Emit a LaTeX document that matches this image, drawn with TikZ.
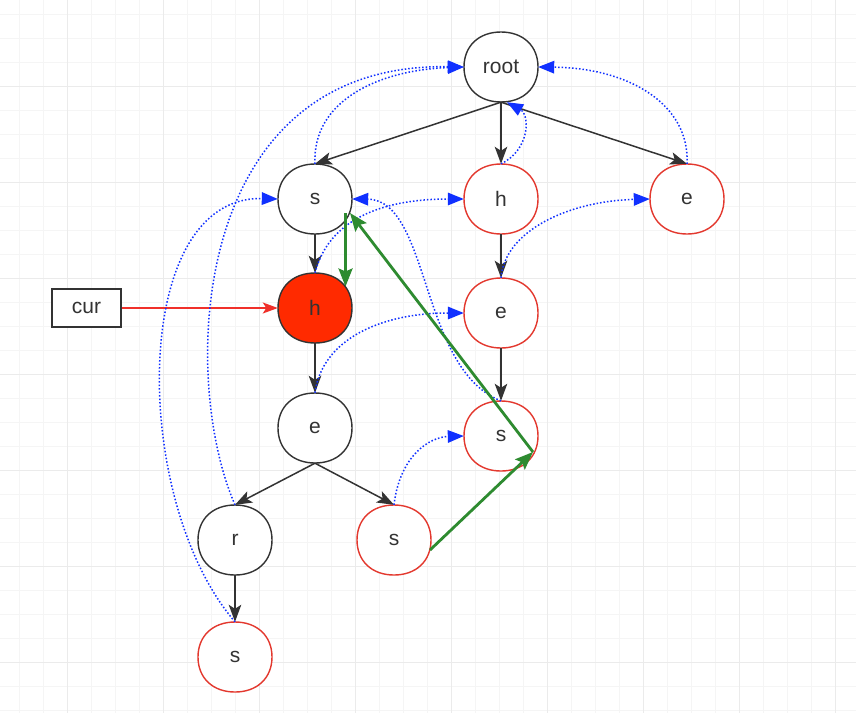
\documentclass[tikz,border=0pt]{standalone}
\usepackage{fontspec}
\setmainfont{Liberation Sans}
\usetikzlibrary{arrows.meta,shapes.geometric,calc}
\pgfdeclarelayer{bg}
\pgfsetlayers{bg,main}
\definecolor{gridminor}{HTML}{F5F5F5}
\definecolor{gridmajor}{HTML}{EBEBEB}
\definecolor{nodeblack}{HTML}{333333}
\definecolor{nodered}{HTML}{E3382E}
\definecolor{fillred}{HTML}{FF2A00}
\definecolor{failblue}{HTML}{1030FF}
\definecolor{pathgreen}{HTML}{2E8B30}
\definecolor{curred}{HTML}{F0302A}
\newcommand{\trieshape}[3]{%
  \begin{pgfonlayer}{bg}
  \draw[draw=#2, fill=#3, line width=1.4pt]
    ($(#1.center)+(37,0)$) .. controls +(0,-21) and +(22.2,0) ..
    ($(#1.center)+(0,-35)$) .. controls +(-22.2,0) and +(0,-21) ..
    ($(#1.center)+(-37,0)$) .. controls +(0,21) and +(-22.2,0) ..
    ($(#1.center)+(0,35)$) .. controls +(22.2,0) and +(0,21) ..
    ($(#1.center)+(37,0)$) -- cycle;
  \end{pgfonlayer}}
\begin{document}
\begin{tikzpicture}[x=1pt,y=-1pt,
  trie/.style={ellipse, minimum width=74pt, minimum height=70pt, inner sep=0pt,
    font=\fontsize{21}{25}\selectfont, text=nodeblack},
  boxnode/.style={rectangle, draw=nodeblack, line width=1.4pt, fill=white,
    minimum width=69pt, minimum height=38pt, inner sep=0pt,
    font=\fontsize{21}{25}\selectfont, text=nodeblack},
  treeedge/.style={draw=nodeblack, line width=1.5pt,
    -{Stealth[length=17pt,width=12.5pt,inset=4pt]}},
  failedge/.style={draw=failblue, line width=1.5pt, dash pattern=on 1.5pt off 2pt,
    -{Triangle[length=16pt,width=12.5pt]}},
  greenedge/.style={draw=pathgreen, line width=2.8pt,
    -{Stealth[length=18pt,width=14pt,inset=3pt]}},
  rededge/.style={draw=curred, line width=1.4pt,
    -{Stealth[length=15pt,width=11pt,inset=3.5pt]}}
]
\begin{pgfonlayer}{bg}
\useasboundingbox (0,0) rectangle (856,713);
\fill[white] (0,0) rectangle (856,713);
\foreach \x in {19,43,...,851} \draw[gridminor, line width=0.8pt] (\x,0) -- (\x,713);
\foreach \y in {14,38,...,710} \draw[gridminor, line width=0.8pt] (0,\y) -- (856,\y);
\foreach \x in {67,163,...,835} \draw[gridmajor, line width=1pt] (\x,0) -- (\x,713);
\foreach \y in {86,182,...,662} \draw[gridmajor, line width=1pt] (0,\y) -- (856,\y);
\end{pgfonlayer}

\node[trie] (root) at (501,67) {root};
\node[trie] (s1) at (315,199) {s};
\node[trie] (h1) at (501,199) {h};
\node[trie] (e1) at (687,199) {e};
\node[trie] (hF) at (315,308) {h};
\node[trie] (eM) at (501,313) {e};
\node[trie] (eB) at (315,428) {e};
\node[trie] (sR) at (501,436) {s};
\node[trie] (r) at (235,540) {r};
\node[trie] (sM) at (394,540) {s};
\node[trie] (sB) at (235,657) {s};
\node[boxnode] (cur) at (86.5,308) {cur};

\trieshape{root}{nodeblack}{white}
\trieshape{s1}{nodeblack}{white}
\trieshape{h1}{nodered}{white}
\trieshape{e1}{nodered}{white}
\trieshape{hF}{nodeblack}{fillred}
\trieshape{eM}{nodered}{white}
\trieshape{eB}{nodeblack}{white}
\trieshape{sR}{nodered}{white}
\trieshape{r}{nodeblack}{white}
\trieshape{sM}{nodered}{white}
\trieshape{sB}{nodered}{white}

\draw[treeedge] (root.south) -- (s1.north);
\draw[treeedge] (root.south) -- (h1.north);
\draw[treeedge] (root.south) -- (e1.north);
\draw[treeedge] (s1.south) -- (hF.north);
\draw[treeedge] (h1.south) -- (eM.north);
\draw[treeedge] (hF.south) -- (eB.north);
\draw[treeedge] (eM.south) -- (sR.north);
\draw[treeedge] (eB.south) -- (r.north);
\draw[treeedge] (eB.south) -- (sM.north);
\draw[treeedge] (r.south) -- (sB.north);

\draw[rededge] (cur.east) -- (hF.west);

\draw[failedge] (s1.north) .. controls (312,100) and (380,70) .. (root.west);
\draw[failedge] (r.north) .. controls (180,380) and (188,62) .. (root.west);
\draw[failedge] (sB.north) .. controls (130,500) and (130,195) .. (s1.west);
\draw[failedge] (hF.north) .. controls (330,215) and (390,199) .. (h1.west);
\draw[failedge] (eB.north) .. controls (322,340) and (380,313) .. (eM.west);
\draw[failedge] (sM.north) .. controls (400,455) and (430,437) .. (sR.west);
\draw[failedge] (eM.north) .. controls (505,230) and (570,201) .. (e1.west);
\draw[failedge] (sR.north) .. controls (420,370) and (430,200) .. (s1.east);
\draw[failedge] (h1.north) .. controls (530,150) and (530,115) .. ($(root.south)+(6,0)$);
\draw[failedge] (e1.north) .. controls (690,105) and (630,68) .. (root.east);

\draw[greenedge] ($(s1.center)+(30.5,14)$) -- ($(hF.center)+(30.5,-21.5)$);
\draw[greenedge] ($(sR.center)+(32,16)$) -- ($(s1.center)+(35,14)$);
\draw[greenedge] ($(sM.center)+(36,10)$) -- ($(sR.center)+(32,16)$);
\end{tikzpicture}
\end{document}
